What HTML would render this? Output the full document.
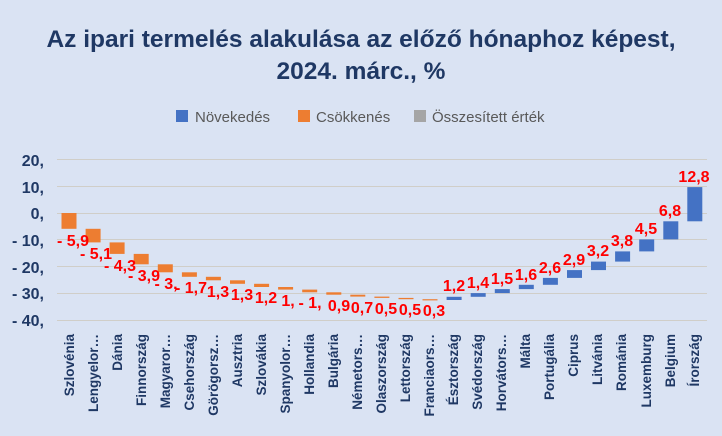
<!DOCTYPE html>
<html><head><meta charset="utf-8"><style>
body{margin:0;background:#dae3f3;}
svg{display:block;font-family:"Liberation Sans",sans-serif;}
.t{font-weight:bold;font-size:24.5px;fill:#1f3864;text-anchor:middle}
.y{font-weight:bold;font-size:16px;fill:#1f3864;text-anchor:end}
.x{font-weight:bold;font-size:13.5px;fill:#1f3864;text-anchor:end}
.l{font-weight:bold;font-size:16px;fill:#ff0000;text-anchor:middle}
.lg{font-size:15px;fill:#595959}
.g{stroke:#d0cec8;stroke-width:1}
.o{fill:#ed7d31}.b{fill:#4472c4}
</style></head><body>
<svg width="722" height="436" viewBox="0 0 722 436">
<rect width="722" height="436" fill="#dae3f3"/>
<text class="t" x="361" y="47">Az ipari termelés alakulása az előző hónaphoz képest,</text>
<text class="t" x="361" y="79">2024.  márc., %</text>
<rect x="176" y="110" width="12" height="12" fill="#4472c4"/><text class="lg" x="195" y="122">Növekedés</text>
<rect x="298" y="110" width="12" height="12" fill="#ed7d31"/><text class="lg" x="316" y="122">Csökkenés</text>
<rect x="414" y="110" width="12" height="12" fill="#a5a5a5"/><text class="lg" x="432" y="122">Összesített érték</text>
<g class="g">
<line x1="57" x2="707" y1="159.5" y2="159.5"/><line x1="57" x2="707" y1="186.5" y2="186.5"/>
<line x1="57" x2="707" y1="213.5" y2="213.5"/><line x1="57" x2="707" y1="239.5" y2="239.5"/>
<line x1="57" x2="707" y1="266.5" y2="266.5"/><line x1="57" x2="707" y1="293.5" y2="293.5"/>
<line x1="57" x2="707" y1="320.5" y2="320.5"/>
</g>
<g>
<text class="y" x="44" y="166">20,</text><text class="y" x="44" y="193">10,</text>
<text class="y" x="44" y="219">0,</text><text class="y" x="44" y="246">- 10,</text>
<text class="y" x="44" y="273">- 20,</text><text class="y" x="44" y="299">- 30,</text>
<text class="y" x="44" y="326">- 40,</text>
</g>
<g>
<rect class="o" x="61.5" y="213" width="15" height="15.8"/>
<rect class="o" x="85.6" y="228.8" width="15" height="13.6"/>
<rect class="o" x="109.6" y="242.4" width="15" height="11.5"/>
<rect class="o" x="133.7" y="253.9" width="15" height="10.4"/>
<rect class="o" x="157.8" y="264.3" width="15" height="8"/>
<rect class="o" x="181.9" y="272.3" width="15" height="4.5"/>
<rect class="o" x="205.9" y="276.8" width="15" height="3.5"/>
<rect class="o" x="230" y="280.3" width="15" height="3.5"/>
<rect class="o" x="254.1" y="283.8" width="15" height="3.2"/>
<rect class="o" x="278.1" y="287" width="15" height="2.6"/>
<rect class="o" x="302.2" y="289.6" width="15" height="2.7"/>
<rect class="o" x="326.3" y="292.3" width="15" height="2.4"/>
<rect class="o" x="350.3" y="294.7" width="15" height="1.9"/>
<rect class="o" x="374.4" y="296.6" width="15" height="1.3"/>
<rect class="o" x="398.5" y="297.9" width="15" height="1.3"/>
<rect class="o" x="422.5" y="299.2" width="15" height="1.2"/>
<rect class="b" x="446.6" y="296.8" width="15" height="3.2"/>
<rect class="b" x="470.7" y="293.1" width="15" height="3.7"/>
<rect class="b" x="494.8" y="289.1" width="15" height="4"/>
<rect class="b" x="518.8" y="284.8" width="15" height="4.3"/>
<rect class="b" x="542.9" y="277.9" width="15" height="6.9"/>
<rect class="b" x="567" y="270.1" width="15" height="7.8"/>
<rect class="b" x="591" y="261.6" width="15" height="8.5"/>
<rect class="b" x="615.1" y="251.4" width="15" height="10.2"/>
<rect class="b" x="639.2" y="239.4" width="15" height="12"/>
<rect class="b" x="663.3" y="221.3" width="15" height="18.1"/>
<rect class="b" x="687.3" y="187.1" width="15" height="34.2"/>
</g>
<g>
<text class="l" x="73" y="246">- 5,9</text>
<text class="l" x="96" y="259">- 5,1</text>
<text class="l" x="120" y="271">- 4,3</text>
<text class="l" x="144" y="281">- 3,9</text>
<text class="l" x="166" y="289">- 3,</text>
<text class="l" x="191" y="293">- 1,7</text>
<text class="l" x="218" y="297">1,3</text>
<text class="l" x="242" y="300">1,3</text>
<text class="l" x="266" y="303">1,2</text>
<text class="l" x="288" y="306">1,</text>
<text class="l" x="310" y="308">- 1,</text>
<text class="l" x="339" y="311">0,9</text>
<text class="l" x="362" y="313">0,7</text>
<text class="l" x="386" y="314">0,5</text>
<text class="l" x="410" y="315">0,5</text>
<text class="l" x="434" y="316">0,3</text>
<text class="l" x="454" y="291">1,2</text>
<text class="l" x="478" y="288">1,4</text>
<text class="l" x="502" y="284">1,5</text>
<text class="l" x="526" y="280">1,6</text>
<text class="l" x="550" y="273">2,6</text>
<text class="l" x="574" y="265">2,9</text>
<text class="l" x="598" y="256">3,2</text>
<text class="l" x="622" y="246">3,8</text>
<text class="l" x="646" y="234">4,5</text>
<text class="l" x="670" y="216">6,8</text>
<text class="l" x="694" y="182">12,8</text>
</g>
<g>
<text class="x" transform="translate(74,334) rotate(-90)">Szlovénia</text>
<text class="x" transform="translate(98,334) rotate(-90)">Lengyelor…</text>
<text class="x" transform="translate(122,334) rotate(-90)">Dánia</text>
<text class="x" transform="translate(146,334) rotate(-90)">Finnország</text>
<text class="x" transform="translate(170,334) rotate(-90)">Magyaror…</text>
<text class="x" transform="translate(194,334) rotate(-90)">Csehország</text>
<text class="x" transform="translate(218,334) rotate(-90)">Görögorsz…</text>
<text class="x" transform="translate(242,334) rotate(-90)">Ausztria</text>
<text class="x" transform="translate(266,334) rotate(-90)">Szlovákia</text>
<text class="x" transform="translate(290,334) rotate(-90)">Spanyolor…</text>
<text class="x" transform="translate(314,334) rotate(-90)">Hollandia</text>
<text class="x" transform="translate(338,334) rotate(-90)">Bulgária</text>
<text class="x" transform="translate(362,334) rotate(-90)">Németors…</text>
<text class="x" transform="translate(386,334) rotate(-90)">Olaszország</text>
<text class="x" transform="translate(410,334) rotate(-90)">Lettország</text>
<text class="x" transform="translate(434,334) rotate(-90)">Franciaors…</text>
<text class="x" transform="translate(458,334) rotate(-90)">Észtország</text>
<text class="x" transform="translate(482,334) rotate(-90)">Svédország</text>
<text class="x" transform="translate(506,334) rotate(-90)">Horvátors…</text>
<text class="x" transform="translate(530,334) rotate(-90)">Málta</text>
<text class="x" transform="translate(554,334) rotate(-90)">Portugália</text>
<text class="x" transform="translate(578,334) rotate(-90)">Ciprus</text>
<text class="x" transform="translate(602,334) rotate(-90)">Litvánia</text>
<text class="x" transform="translate(626,334) rotate(-90)">Románia</text>
<text class="x" transform="translate(651,334) rotate(-90)">Luxemburg</text>
<text class="x" transform="translate(675,334) rotate(-90)">Belgium</text>
<text class="x" transform="translate(699,334) rotate(-90)">Írország</text>
</g>
</svg>
</body></html>
